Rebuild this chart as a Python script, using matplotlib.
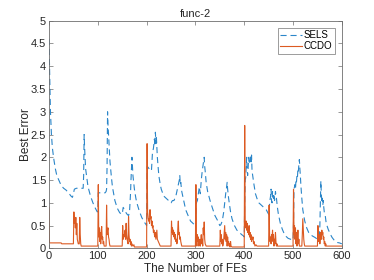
import numpy as np
import matplotlib
matplotlib.use("Agg")
import matplotlib.pyplot as plt

plt.rcParams['font.family'] = ['Liberation Sans', 'DejaVu Sans']

# SELS curve, (FEs, best error)
sels_pts = [
    (0, 4.6), (1, 4.0), (2, 3.5), (3, 3.0), (5, 2.5), (7, 2.2), (10, 1.95), (13, 1.75), (16, 1.6),
    (20, 1.5), (25, 1.38), (30, 1.32), (35, 1.28), (40, 1.22), (45, 1.15), (48, 1.12),
    (50, 1.2), (52, 1.3), (56, 1.32), (60, 1.32), (65, 1.32), (70, 1.32), (71, 1.6), (72, 2.5),
    (73, 2.2), (75, 1.75), (78, 1.5), (80, 1.35), (85, 1.15), (90, 1.0), (95, 0.88), (99, 0.8),
    (100, 0.82), (101, 1.22), (105, 1.22), (110, 1.22), (115, 1.22), (117, 1.25), (118, 1.3),
    (119, 1.8), (120, 3.0), (121, 2.7), (123, 2.3), (125, 1.9), (128, 1.55), (130, 1.35),
    (135, 1.05), (140, 0.88), (145, 0.78), (150, 0.75),
    (152, 0.9), (155, 0.85), (158, 0.78), (160, 0.75), (163, 0.72), (165, 0.8), (167, 1.2),
    (168, 1.5), (170, 2.0), (172, 1.6), (175, 1.3), (178, 1.1), (180, 1.0), (185, 0.82),
    (190, 0.68), (195, 0.58), (199, 0.52),
    (200, 0.5), (201, 1.8), (203, 1.78), (205, 1.75), (208, 1.7), (210, 1.72), (212, 2.1),
    (214, 2.2), (216, 2.4), (217, 2.25), (218, 2.55), (219, 2.3), (220, 2.45), (222, 2.0),
    (225, 1.6), (228, 1.4), (230, 1.3), (235, 1.15), (240, 1.1), (245, 1.05), (248, 1.0),
    (250, 1.0), (253, 1.05), (256, 1.05), (258, 1.1), (260, 1.15), (263, 1.3), (265, 1.4),
    (267, 1.5), (268, 1.6), (269, 1.4), (270, 1.45), (272, 1.25), (275, 1.1), (280, 0.85),
    (285, 0.72), (290, 0.6), (295, 0.55), (299, 0.5),
    (300, 0.5), (302, 1.0), (304, 1.05), (306, 1.2), (308, 1.35), (310, 1.2), (312, 1.5),
    (314, 1.7), (316, 1.85), (318, 2.0), (319, 1.8), (320, 1.7), (322, 1.45), (325, 1.25),
    (330, 1.05), (335, 0.88), (340, 0.72), (345, 0.62), (350, 0.5),
    (352, 0.52), (355, 0.6), (358, 0.8), (360, 1.0), (362, 1.2), (364, 1.35), (365, 1.45),
    (366, 1.3), (368, 1.1), (370, 0.95), (372, 0.8), (375, 0.65), (380, 0.5), (385, 0.4),
    (390, 0.35), (395, 0.3), (399, 0.27),
    (400, 0.25), (401, 1.0), (402, 1.5), (403, 1.55), (404, 1.8), (405, 2.0), (406, 1.7),
    (407, 1.6), (408, 1.75), (409, 2.0), (410, 1.85), (412, 1.95), (413, 2.05), (414, 1.9),
    (415, 2.05), (416, 1.7), (418, 1.55), (420, 1.4), (423, 1.2), (426, 1.1), (430, 1.0),
    (435, 0.95), (440, 0.9), (445, 0.85), (450, 0.75),
    (451, 0.75), (452, 1.0), (454, 1.15), (455, 1.3), (456, 1.05), (457, 1.0), (458, 1.25),
    (460, 1.1), (461, 1.2), (462, 1.05), (463, 1.1), (464, 1.25), (465, 1.15), (466, 1.1),
    (468, 0.9), (470, 0.75), (474, 0.55), (478, 0.42), (482, 0.32), (486, 0.26), (490, 0.22),
    (495, 0.2), (500, 0.18),
    (501, 0.55), (502, 1.3), (503, 1.35), (504, 1.4), (505, 1.3), (506, 1.5), (507, 1.45),
    (508, 1.6), (509, 1.55), (510, 1.75), (511, 1.7), (512, 1.85), (513, 1.95), (514, 1.75),
    (515, 1.6), (516, 1.4), (518, 1.1), (520, 0.85), (524, 0.6), (528, 0.45), (532, 0.35),
    (536, 0.3), (540, 0.27), (545, 0.24), (550, 0.2),
    (552, 0.2), (554, 0.25), (555, 0.5), (556, 1.0), (557, 1.48), (558, 1.2), (559, 1.0),
    (560, 1.1), (561, 0.95), (562, 1.05), (563, 0.9), (564, 0.8), (566, 0.72), (568, 0.55),
    (572, 0.42), (576, 0.32), (580, 0.24), (585, 0.17), (590, 0.13), (595, 0.12), (600, 0.1),
]

# CCDO curve
ccdo_pts = [
    (0, 0.9), (1, 0.12), (10, 0.12), (25, 0.12), (26, 0.1), (50, 0.1),
    (51, 0.8), (52, 0.55), (53, 0.65), (54, 0.45), (55, 0.68), (56, 0.3), (57, 0.55), (58, 0.2),
    (59, 0.15), (60, 0.1), (62, 0.1), (63, 0.68), (64, 0.3), (65, 0.1), (66, 0.05), (100, 0.05),
    (101, 1.4), (102, 0.25), (103, 0.45), (104, 0.15), (105, 0.35), (106, 0.1), (107, 0.4),
    (108, 0.48), (109, 0.2), (110, 0.25), (111, 0.1), (112, 0.15), (113, 0.05), (117, 0.05),
    (118, 0.95), (119, 0.3), (120, 0.4), (121, 0.45), (122, 0.25), (123, 0.2), (124, 0.1),
    (125, 0.05), (150, 0.05),
    (151, 0.5), (152, 0.2), (153, 0.3), (154, 0.25), (155, 0.35), (156, 0.4), (157, 0.2),
    (158, 0.55), (159, 0.3), (160, 0.2), (161, 0.15), (162, 0.1), (163, 0.7), (164, 0.3),
    (165, 0.15), (166, 0.2), (167, 0.08), (168, 0.15), (169, 0.05), (170, 0.1), (172, 0.05),
    (174, 0.08), (175, 0.03), (200, 0.03),
    (201, 2.3), (202, 0.8), (203, 0.7), (204, 0.6), (205, 0.65), (206, 0.55), (207, 0.85),
    (208, 0.65), (209, 0.7), (210, 0.5), (211, 0.6), (212, 0.45), (213, 0.5), (214, 0.35),
    (215, 0.4), (216, 0.3), (217, 0.25), (218, 0.35), (219, 0.2), (220, 0.3), (221, 0.4),
    (222, 0.2), (224, 0.15), (226, 0.1), (228, 0.05), (250, 0.05),
    (251, 0.6), (252, 0.35), (253, 0.45), (254, 0.3), (255, 0.4), (256, 0.25), (257, 0.35),
    (258, 0.2), (259, 0.3), (260, 0.15), (261, 0.2), (262, 0.1), (263, 0.15), (264, 0.45),
    (265, 0.6), (266, 0.3), (267, 0.35), (268, 0.2), (269, 0.25), (270, 0.15), (271, 0.1),
    (272, 0.05), (300, 0.05),
    (301, 1.4), (302, 0.2), (303, 0.05), (304, 0.3), (305, 0.15), (306, 0.25), (307, 0.05),
    (308, 0.1), (309, 0.2), (310, 0.05), (311, 0.15), (312, 0.3), (313, 0.1), (314, 0.2),
    (315, 0.05), (316, 0.45), (317, 0.3), (318, 0.58), (319, 0.2), (320, 0.1), (322, 0.05),
    (350, 0.05),
    (351, 0.4), (352, 0.15), (353, 0.3), (354, 0.1), (355, 0.2), (356, 0.05), (357, 0.1),
    (358, 0.2), (360, 0.5), (361, 0.2), (362, 0.35), (363, 0.15), (364, 0.3), (365, 0.05),
    (366, 0.25), (367, 0.1), (368, 0.15), (369, 0.05), (370, 0.1), (371, 0.03), (372, 0.15),
    (373, 0.05), (375, 0.03), (400, 0.03),
    (401, 2.7), (402, 0.5), (403, 0.45), (404, 0.6), (405, 0.4), (406, 0.55), (407, 0.35),
    (408, 0.45), (409, 0.3), (410, 0.5), (411, 0.25), (412, 0.35), (413, 0.2), (414, 0.3),
    (415, 0.15), (416, 0.25), (417, 0.2), (418, 0.25), (419, 0.1), (420, 0.15), (422, 0.05),
    (424, 0.08), (426, 0.05), (450, 0.05),
    (451, 0.95), (452, 0.3), (453, 0.15), (454, 0.25), (455, 0.1), (456, 0.3), (457, 0.2),
    (458, 0.4), (459, 0.15), (460, 0.3), (461, 0.05), (462, 0.2), (463, 0.1), (464, 0.35),
    (465, 0.15), (466, 0.05), (467, 0.1), (468, 0.05), (500, 0.05),
    (501, 1.3), (502, 0.3), (503, 0.5), (504, 0.2), (505, 0.45), (506, 0.1), (507, 0.35),
    (508, 0.05), (509, 0.2), (510, 0.4), (511, 0.1), (512, 0.2), (513, 0.05), (518, 0.05),
    (519, 0.3), (520, 0.65), (521, 0.4), (522, 0.2), (523, 0.1), (524, 0.05), (550, 0.05),
    (551, 0.5), (552, 0.2), (553, 0.15), (554, 0.3), (555, 0.1), (556, 0.25), (557, 0.35),
    (558, 0.2), (559, 0.4), (560, 0.3), (561, 0.35), (562, 0.2), (563, 0.25), (564, 0.1),
    (565, 0.15), (566, 0.05), (567, 0.1), (568, 0.05), (600, 0.05),
]

sels_x, sels_y = zip(*sels_pts)
ccdo_x, ccdo_y = zip(*ccdo_pts)

sels_col = '#2b86c9'
ccdo_col = '#dc5a22'
ink = '#262626'
frame = '#6e6e6e'

fig = plt.figure(figsize=(3.74, 2.80), dpi=100)
ax = fig.add_axes([0.131, 0.113, 0.783, 0.813])

ax.plot(sels_x, sels_y, '--', color=sels_col, lw=0.8, dashes=(5.5, 3.5), label='SELS')
ax.plot(ccdo_x, ccdo_y, '-', color=ccdo_col, lw=0.8, label='CCDO')

ax.set_xlim(0, 600)
ax.set_ylim(0, 5)
ax.set_xticks(np.arange(0, 601, 100))
ax.set_yticks(np.arange(0, 5.01, 0.5))
ax.set_yticklabels(['0', '0.5', '1', '1.5', '2', '2.5', '3', '3.5', '4', '4.5', '5'])

ax.tick_params(direction='in', length=3, width=0.5, labelsize=8, color=frame,
               labelcolor=ink, top=True, right=True, pad=2)
for s in ax.spines.values():
    s.set_linewidth(0.6)
    s.set_color(frame)

ax.set_title('func-2', fontsize=8, color=ink, pad=3)
ax.set_xlabel('The Number of FEs', fontsize=8.5, color=ink, labelpad=1)
ax.set_ylabel('Best Error', fontsize=8.5, color=ink, labelpad=-1)

leg = ax.legend(loc='upper right', fontsize=7, frameon=True, fancybox=False,
                handlelength=2.2, borderpad=0.25, labelspacing=0.15, handletextpad=0.25,
                borderaxespad=0.7)
leg.get_frame().set_edgecolor(frame)
leg.get_frame().set_linewidth(0.6)

fig.savefig('out.png', dpi=100)
